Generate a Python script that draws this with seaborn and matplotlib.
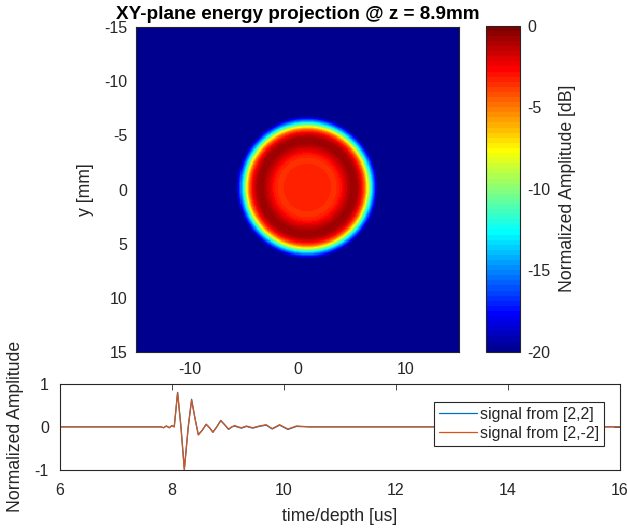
import numpy as np
import pandas as pd
import matplotlib
matplotlib.use("Agg")
import matplotlib.pyplot as plt
from matplotlib.colors import ListedColormap
import seaborn as sns

# ---------------- data ----------------
# radial energy profile of the XY-plane projection
radius_mm = [0.0, 1.0, 2.0, 2.6, 3.1, 3.6, 4.2, 4.7, 5.05, 5.35, 5.6, 5.85, 6.1, 6.35, 6.6, 30.0]
level_db = [-3.3, -3.3, -3.35, -3.6, -3.0, -1.7, -0.6, -1.0, -2.5, -4.5, -7.5, -11.0, -14.5, -17.5, -20.0, -25.0]
center_xy = (0.9, -0.2)
grid_min, grid_max, n_cells = -15.0, 15.0, 300

xy_ticks = [-10, 0, 10]
y_ticks = [-15, -10, -5, 0, 5, 10, 15]
cbar_ticks = [0, -5, -10, -15, -20]

# A-scan signals
time_us = [6.0, 7.5, 7.80, 7.85, 7.90, 7.95, 8.00, 8.04, 8.10, 8.16, 8.22, 8.29, 8.35, 8.41,
           8.47, 8.54, 8.61, 8.67, 8.73, 8.80, 8.87, 8.94, 9.01, 9.07, 9.12, 9.18, 9.24, 9.33,
           9.44, 9.56, 9.68, 9.79, 9.92, 10.07, 10.22, 10.45, 12.0, 16.0]
sig_p2p2 = [0.0, 0.0, 0.0, -0.02, 0.02, -0.02, 0.03, 0.0, 0.80, 0.0, -0.98, 0.0, 0.64, 0.2,
            -0.18, -0.08, 0.06, -0.02, -0.12, 0.0, 0.15, 0.05, -0.06, 0.0, 0.02, -0.01, -0.03, 0.01,
            -0.03, 0.01, 0.04, -0.05, 0.04, -0.06, 0.01, 0.0, 0.0, 0.0]
sig_p2m2 = [0.0, 0.0, 0.0, -0.02, 0.02, -0.02, 0.03, 0.0, 0.79, 0.0, -1.0, 0.0, 0.62, 0.2,
            -0.19, -0.08, 0.06, -0.02, -0.13, 0.0, 0.14, 0.05, -0.05, 0.0, 0.03, 0.0, -0.02, 0.02,
            -0.02, 0.02, 0.05, -0.04, 0.05, -0.05, 0.02, 0.0, 0.0, 0.0]
labels = ["signal from [2,2]", "signal from [2,-2]"]

# ---------------- figure ----------------
sns.set_theme(style="white")
plt.rcParams["font.family"] = ["Liberation Sans", "DejaVu Sans"]
dark = (0.15, 0.15, 0.15)
plt.rcParams.update({
    "axes.edgecolor": dark, "xtick.color": dark, "ytick.color": dark,
    "axes.labelcolor": dark, "text.color": dark, "axes.linewidth": 0.8,
    "axes.unicode_minus": False,
})
W, H = 627, 528
fig = plt.figure(figsize=(W / 100, H / 100), dpi=100)

def px_axes(l, t, r, b):
    return fig.add_axes([l / W, 1 - b / H, (r - l) / W, (b - t) / H])

ax = px_axes(136, 27, 459, 352)
cax = px_axes(485.7, 25.7, 520, 351.7)
ax2 = px_axes(60, 383.7, 620, 470)

# MATLAB-style 64-level jet colormap
xs = np.arange(1, 65) / 64
ml_jet = ListedColormap(np.column_stack([
    np.clip(np.minimum(4 * xs - 1.5, -4 * xs + 4.5), 0, 1),
    np.clip(np.minimum(4 * xs - 0.5, -4 * xs + 3.5), 0, 1),
    np.clip(np.minimum(4 * xs + 0.5, -4 * xs + 2.5), 0, 1),
]))

# build field
step = (grid_max - grid_min) / n_cells
centers = grid_min + step * (np.arange(n_cells) + 0.5)
X, Y = np.meshgrid(centers, centers)
R = np.hypot(X - center_xy[0], Y - center_xy[1])
field = np.interp(R, radius_mm, level_db)
df_field = pd.DataFrame(field, index=centers, columns=centers)

sns.heatmap(df_field, ax=ax, cmap=ml_jet, vmin=-20, vmax=0, cbar_ax=cax,
            cbar_kws={"ticks": cbar_ticks}, xticklabels=False, yticklabels=False,
            rasterized=True)

def to_idx(v):
    return (v - grid_min) / step

ax.set_xticks([to_idx(v) for v in xy_ticks])
ax.set_xticklabels([str(v) for v in xy_ticks])
ax.set_yticks([to_idx(v) for v in y_ticks])
ax.set_yticklabels([str(v) for v in y_ticks], rotation=0)
ax.set_xlabel("")
ax.set_ylabel("y [mm]", fontsize=12.7)
ax.yaxis.set_label_coords((94 - 136) / 323, 0.5)
for s in ax.spines.values():
    s.set_visible(True)
    s.set_color(dark)
    s.set_linewidth(0.8)
ax.tick_params(axis="both", direction="in", length=4, width=0.6, labelsize=11.5,
               top=True, right=True, bottom=True, left=True, pad=6, colors=dark)
ax.tick_params(axis="x", pad=7)
ax.set_title("XY-plane energy projection @ z = 8.9mm", fontsize=13.6, fontweight="bold",
             pad=6, color="black")

cbar = ax.collections[0].colorbar
cbar.outline.set_edgecolor(dark)
cbar.outline.set_linewidth(0.8)
cax.tick_params(direction="in", length=4, width=0.6, labelsize=11.5, colors=dark, pad=5)
cbar.set_label("Normalized Amplitude [dB]", fontsize=12.7, color=dark)
cax.yaxis.set_label_coords((559 - 485.7) / 34.3, 0.5)

# line plot
df_sig = pd.concat([
    pd.DataFrame({"t": time_us, "a": sig_p2p2, "src": labels[0]}),
    pd.DataFrame({"t": time_us, "a": sig_p2m2, "src": labels[1]}),
], ignore_index=True)
palette = {labels[0]: (0.0, 0.447, 0.741), labels[1]: (0.85, 0.325, 0.098)}
sns.lineplot(data=df_sig, x="t", y="a", hue="src", palette=palette, ax=ax2,
             estimator=None, linewidth=0.9, legend=True)
ax2.set_xlim(6, 16)
ax2.set_ylim(-1, 1)
ax2.set_xticks([6, 8, 10, 12, 14, 16])
ax2.set_yticks([-1, 0, 1])
ax2.set_xlabel("time/depth [us]", fontsize=12.7, labelpad=7)
ax2.set_ylabel("Normalized Amplitude", fontsize=12.7)
ax2.yaxis.set_label_coords((24 - 60) / 560, 0.5)
for s in ax2.spines.values():
    s.set_visible(True)
    s.set_color(dark)
    s.set_linewidth(0.8)
ax2.tick_params(axis="both", direction="in", length=4, width=0.6, labelsize=11.5,
                top=True, right=True, pad=8, colors=dark)
ax2.tick_params(axis="x", pad=9.5)
leg = ax2.legend(loc="upper left", bbox_to_anchor=(0.668, 0.788), fontsize=11.5,
                 frameon=True, fancybox=False, edgecolor=dark, framealpha=1,
                 handlelength=2.4, borderpad=0.3, labelspacing=0.25, handletextpad=0.2,
                 borderaxespad=0)
leg.get_frame().set_linewidth(0.8)

fig.savefig("out.png", dpi=100)
